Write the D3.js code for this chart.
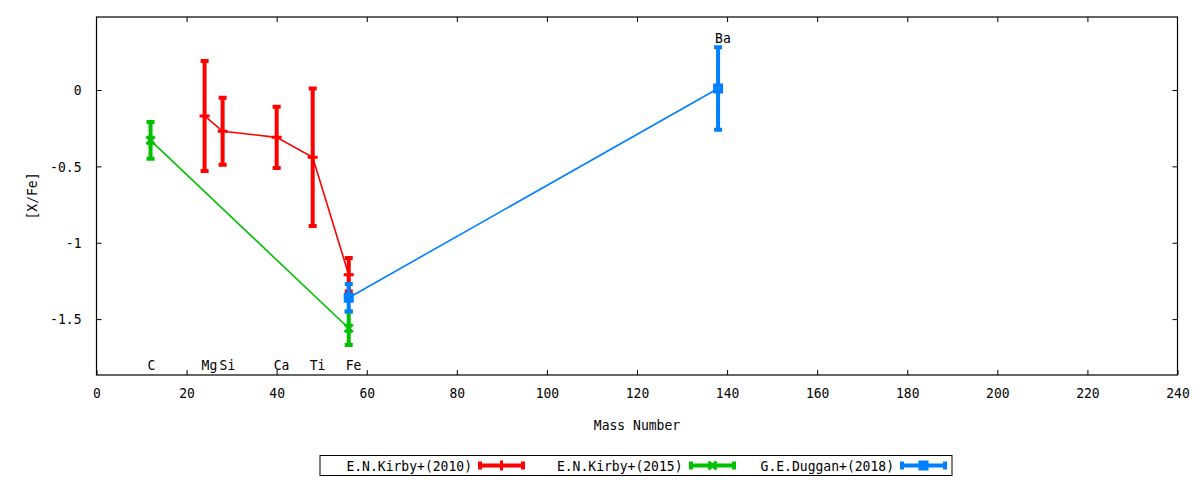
<!DOCTYPE html>
<html>
<head>
<meta charset="utf-8">
<script src="https://cdn.jsdelivr.net/npm/d3@7"></script>
<style>
  body { margin: 0; background: #fff; }
  text { font-family: "DejaVu Sans Mono", monospace; font-size: 14.5px; fill: #000; }
</style>
</head>
<body>
<div class="chart"></div>
<script>
// data
const kirby2010Mass = [24, 28, 40, 48, 56];
const kirby2010Val  = [-0.17, -0.27, -0.31, -0.44, -1.21];
const kirby2010Err  = [0.36, 0.22, 0.20, 0.45, 0.11];

const kirby2015Mass = [12, 56];
const kirby2015Val  = [-0.33, -1.56];
const kirby2015Err  = [0.12, 0.11];

const duggan2018Mass = [56, 138];
const duggan2018Val  = [-1.36, 0.01];
const duggan2018Err  = [0.09, 0.27];

const elementNames = ["C", "Mg", "Si", "Ca", "Ti", "Fe", "Ba"];
const elementMass  = [12, 24, 28, 40, 48, 56, 138];

const xTickValues = [0, 20, 40, 60, 80, 100, 120, 140, 160, 180, 200, 220, 240];
const yTickValues = [0, -0.5, -1, -1.5];
const yTickLabels = ["0", "-0.5", "-1", "-1.5"];

const seriesNames = ["E.N.Kirby+(2010)", "E.N.Kirby+(2015)", "G.E.Duggan+(2018)"];
const seriesColors = ["#ff0000", "#00c000", "#0080ff"];

const W = 1200, H = 480;
const plotL = 96.5, plotR = 1177.5, plotT = 17, plotB = 375;
const charW = 7.85;   // narrow monospace advance, like the original

const x = d3.scaleLinear().domain([0, 240]).range([plotL, plotR]);
const y = d3.scaleLinear().domain([-1.866, 0.478]).range([plotB, plotT]);

const svg = d3.select(".chart").append("svg")
    .attr("width", W)
    .attr("height", H);

// squeeze text to the narrow width of the original font
function narrow(sel) {
    sel.each(function() {
        const t = d3.select(this);
        const n = t.text().length;
        if (n) t.attr("textLength", n * charW).attr("lengthAdjust", "spacingAndGlyphs");
    });
}

// axes with inward ticks, mirrored on top/right
svg.append("g")
    .attr("transform", `translate(0,${plotB})`)
    .call(d3.axisBottom(x).tickValues(xTickValues).tickSizeInner(-5).tickSizeOuter(0).tickPadding(13))
    .call(g => g.select(".domain").remove());
svg.append("g")
    .attr("transform", `translate(0,${plotT})`)
    .call(d3.axisTop(x).tickValues(xTickValues.slice(1, -1)).tickSizeInner(-5).tickSizeOuter(0).tickFormat(""))
    .call(g => g.select(".domain").remove());
svg.append("g")
    .attr("transform", `translate(${plotL},0)`)
    .call(d3.axisLeft(y).tickValues(yTickValues).tickSizeInner(-5).tickSizeOuter(0).tickPadding(15)
        .tickFormat((d, i) => yTickLabels[i]))
    .call(g => g.select(".domain").remove());
svg.append("g")
    .attr("transform", `translate(${plotR},0)`)
    .call(d3.axisRight(y).tickValues(yTickValues).tickSizeInner(-5).tickSizeOuter(0).tickFormat(""))
    .call(g => g.select(".domain").remove());

svg.selectAll(".tick line").attr("stroke", "#000").attr("stroke-width", 1);
svg.selectAll(".tick text")
    .style("font-family", "DejaVu Sans Mono").style("font-size", "14.5px")
    .call(narrow);

svg.append("rect")
    .attr("x", plotL).attr("y", plotT)
    .attr("width", plotR - plotL).attr("height", plotB - plotT)
    .attr("fill", "none").attr("stroke", "#000").attr("stroke-width", 1.2);

// axis titles
svg.append("text")
    .attr("x", (plotL + plotR) / 2).attr("y", 430)
    .attr("text-anchor", "middle")
    .text("Mass Number")
    .call(narrow);
svg.append("text")
    .attr("transform", "translate(37,196) rotate(-90)")
    .attr("text-anchor", "middle")
    .text("[X/Fe]")
    .call(narrow);

// element labels
elementNames.forEach((name, i) => {
    const isTop = name === "Ba";
    svg.append("text")
        .attr("x", x(elementMass[i]) - 3)
        .attr("y", isTop ? 43 : 369.5)
        .text(name)
        .call(narrow);
});

function marker(g, kind, cx, cy, color) {
    if (kind === "plus") {
        g.append("path")
            .attr("d", `M${cx - 5},${cy}H${cx + 5}M${cx},${cy - 5}V${cy + 5}`)
            .attr("stroke", color).attr("stroke-width", 3);
    } else if (kind === "cross") {
        g.append("path")
            .attr("d", `M${cx - 4},${cy - 4}L${cx + 4},${cy + 4}M${cx - 4},${cy + 4}L${cx + 4},${cy - 4}`)
            .attr("stroke", color).attr("stroke-width", 3);
    } else {
        g.append("rect")
            .attr("x", cx - 5).attr("y", cy - 5)
            .attr("width", 10).attr("height", 10)
            .attr("fill", color);
    }
}

const series = [
    {mass: kirby2010Mass, val: kirby2010Val, err: kirby2010Err, kind: "plus"},
    {mass: kirby2015Mass, val: kirby2015Val, err: kirby2015Err, kind: "cross"},
    {mass: duggan2018Mass, val: duggan2018Val, err: duggan2018Err, kind: "square"}
];

const line = d3.line().x(d => x(d[0])).y(d => y(d[1]));

series.forEach((s, k) => {
    const color = seriesColors[k];
    const g = svg.append("g");
    const pts = s.mass.map((m, i) => [m, s.val[i], s.err[i]]);

    g.append("path")
        .attr("d", line(pts))
        .attr("fill", "none")
        .attr("stroke", color)
        .attr("stroke-width", 1.6);

    pts.forEach(p => {
        const cx = x(p[0]), y1 = y(p[1] + p[2]), y2 = y(p[1] - p[2]);
        g.append("path")
            .attr("d", `M${cx},${y1}V${y2}M${cx - 4},${y1}H${cx + 4}M${cx - 4},${y2}H${cx + 4}`)
            .attr("stroke", color)
            .attr("stroke-width", 4)
            .attr("fill", "none");
        marker(g, s.kind, cx, y(p[1]), color);
    });
});

// legend
svg.append("rect")
    .attr("x", 320).attr("y", 455.5)
    .attr("width", 632).attr("height", 20)
    .attr("fill", "none").attr("stroke", "#000").attr("stroke-width", 1);

const legendTextEnd = [472, 682.5, 894];
const legendSample = [480, 691, 902];
seriesNames.forEach((name, k) => {
    const color = seriesColors[k];
    const ly = 465.5;
    svg.append("text")
        .attr("x", legendTextEnd[k]).attr("y", ly + 5.5)
        .attr("text-anchor", "end")
        .text(name)
        .call(narrow);
    const g = svg.append("g");
    const x0 = legendSample[k], x1 = x0 + 43;
    g.append("path")
        .attr("d", `M${x0},${ly}H${x1}M${x0},${ly - 4}V${ly + 4}M${x1},${ly - 4}V${ly + 4}`)
        .attr("stroke", color).attr("stroke-width", 4).attr("fill", "none");
    marker(g, series[k].kind, (x0 + x1) / 2, ly, color);
});
</script>
</body>
</html>
